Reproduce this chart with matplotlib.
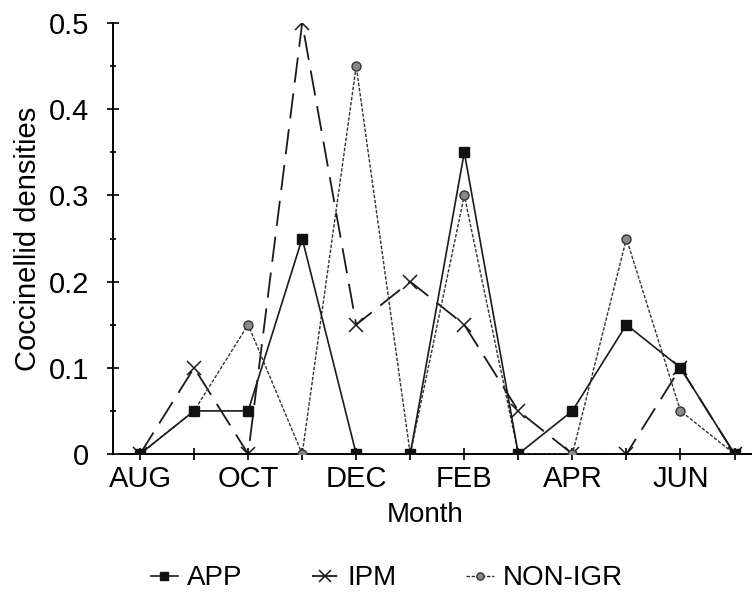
import matplotlib
matplotlib.use("Agg")
import matplotlib.pyplot as plt

plt.rcParams['font.family'] = ['Liberation Sans', 'DejaVu Sans']

# monthly coccinellid densities, Aug -> Jul
months = ['AUG', 'SEP', 'OCT', 'NOV', 'DEC', 'JAN', 'FEB', 'MAR', 'APR', 'MAY', 'JUN', 'JUL']
app = [0, 0.05, 0.05, 0.25, 0, 0, 0.35, 0, 0.05, 0.15, 0.1, 0]
ipm = [0, 0.1, 0, 0.5, 0.15, 0.2, 0.15, 0.05, 0, 0, 0.1, 0]
non_igr = [0, 0.05, 0.15, 0, 0.45, 0, 0.3, 0, 0, 0.25, 0.05, 0]

x = list(range(len(months)))

fig = plt.figure(figsize=(7.52, 5.98), dpi=100)
ax = fig.add_axes([0.1503, 0.2408, 0.848, 0.7207])

ax.plot(x, ipm, color='#1a1a1a', lw=1.3, dashes=(14, 6), marker='x', ms=10,
        mew=1.1, label='IPM', zorder=2)
ax.plot(x, non_igr, color='#333333', lw=1.0, dashes=(2.5, 1.2), marker='o', ms=6.5,
        mfc='#8a8a8a', mec='#333333', mew=1.0, label='NON-IGR', zorder=3)
ax.plot(x, app, color='#1a1a1a', lw=1.2, marker='s', ms=7, mfc='#111111',
        mec='#111111', label='APP', zorder=4)

ax.set_xlim(-0.5, 11.3)
ax.set_ylim(0, 0.5)

for s in ['top', 'right']:
    ax.spines[s].set_visible(False)
ax.spines['left'].set_linewidth(1.4)
ax.spines['bottom'].set_linewidth(1.4)
ax.spines['bottom'].set_bounds(-0.37, 11.3)

ax.set_xticks(x)
ax.set_xticklabels([m if i % 2 == 0 else '' for i, m in enumerate(months)])
ax.set_yticks([0, 0.1, 0.2, 0.3, 0.4, 0.5])
ax.set_yticklabels(['0', '0.1', '0.2', '0.3', '0.4', '0.5'])
ax.set_yticks([0.05, 0.15, 0.25, 0.35, 0.45], minor=True)
ax.tick_params(axis='both', which='major', direction='inout', length=8, width=1.3,
               labelsize=21, color='#111111')
ax.tick_params(axis='x', pad=4)
ax.tick_params(axis='y', pad=13)
ax.tick_params(axis='y', which='minor', direction='inout', length=5, width=1.2)

ax.set_ylabel('Coccinellid densities', fontsize=21)
ax.yaxis.set_label_coords(-0.112, 0.5)
ax.set_xlabel('Month', fontsize=20)
ax.xaxis.set_label_coords(0.49, -0.112)

handles, labels = ax.get_legend_handles_labels()
order = [2, 0, 1]
fig.legend([handles[i] for i in order], [labels[i] for i in order],
           loc='center', bbox_to_anchor=(0.514, 0.033), ncol=3, frameon=False,
           fontsize=20, handlelength=1.0, handletextpad=0.3, columnspacing=2.5,
           markerscale=0.8)

fig.savefig('out.png', dpi=100)
